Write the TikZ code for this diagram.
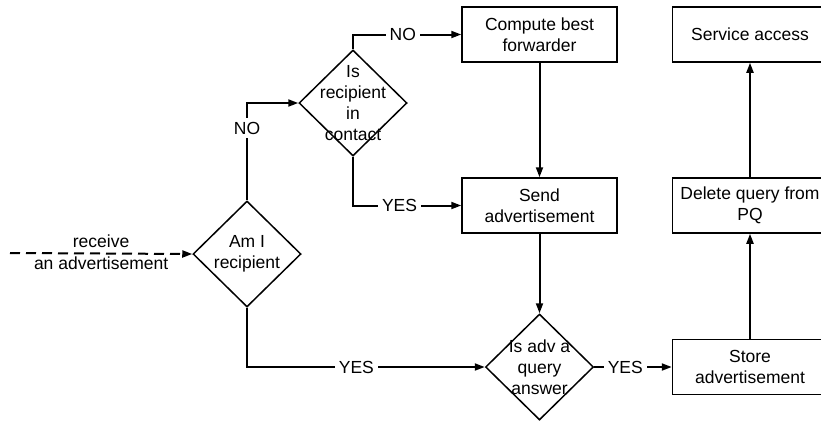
\documentclass[tikz,border=0pt]{standalone}
\usepackage{fontspec}
\setmainfont{Liberation Sans}
\usetikzlibrary{arrows.meta,shapes.geometric}
\begin{document}
\begin{tikzpicture}[x=1pt,y=-1pt,
  every node/.style={font=\fontsize{17.5}{21}\selectfont},
  box/.style={draw,line width=1.5pt,minimum width=155pt,minimum height=55pt,inner sep=0pt,align=center},
  dia/.style={draw,line width=1.5pt,diamond,minimum width=108pt,minimum height=106pt,inner sep=0pt},
  dtext/.style={label={[align=center,font=\fontsize{17.5}{21}\selectfont]center:#1}},
  conn/.style={line width=2pt,-{Triangle[length=10pt,width=7pt]}},
  lbl/.style={fill=white,inner sep=4pt}]
\useasboundingbox (0,0) rectangle (821,421);
\clip (0,0) rectangle (821,421);

% decisions
\node[dia,dtext={Am I\\recipient}] (amI) at (247,254) {};
\node[dia,dtext={Is\\recipient\\in\\contact}] (contact) at (353,103) {};
\node[dia,dtext={Is adv a\\query\\answer}] (query) at (539.5,367) {};

% actions
\node[box] (compute) at (539.5,34.5) {Compute best\\forwarder};
\node[box] (send) at (539.5,205.5) {Send\\advertisement};
\node[box] (service) at (750,34.5) {Service access};
\node[box] (delete) at (750,205.5) {Delete query from\\PQ};
\node[box] (store) at (750,367) {Store\\advertisement};

% incoming advertisement
\coordinate (recv) at (10,253);
\draw[conn,dash pattern=on 10pt off 6pt] (recv) -- (amI.west)
  node[midway,anchor=base,yshift=6pt] {receive}
  node[midway,anchor=base,yshift=-16pt] {an advertisement};

% decision branches
\draw[conn] (amI.north) |- node[lbl,pos=0.37] {NO} (contact.west);
\draw[conn] (contact.north) |- node[lbl,pos=0.73] {NO} (compute.west);
\draw[conn] (contact.south) |- node[lbl,pos=0.715] {YES} (send.west);
\draw[conn] (amI.south) |- node[lbl,pos=0.73] {YES} (query.west);
\draw[conn] (query.east) -- node[lbl,pos=0.4] {YES} (store.west);

% straight flow
\draw[conn] (compute) -- (send);
\draw[conn] (send) -- (query);
\draw[conn] (store) -- (delete);
\draw[conn] (delete) -- (service);
\end{tikzpicture}
\end{document}
